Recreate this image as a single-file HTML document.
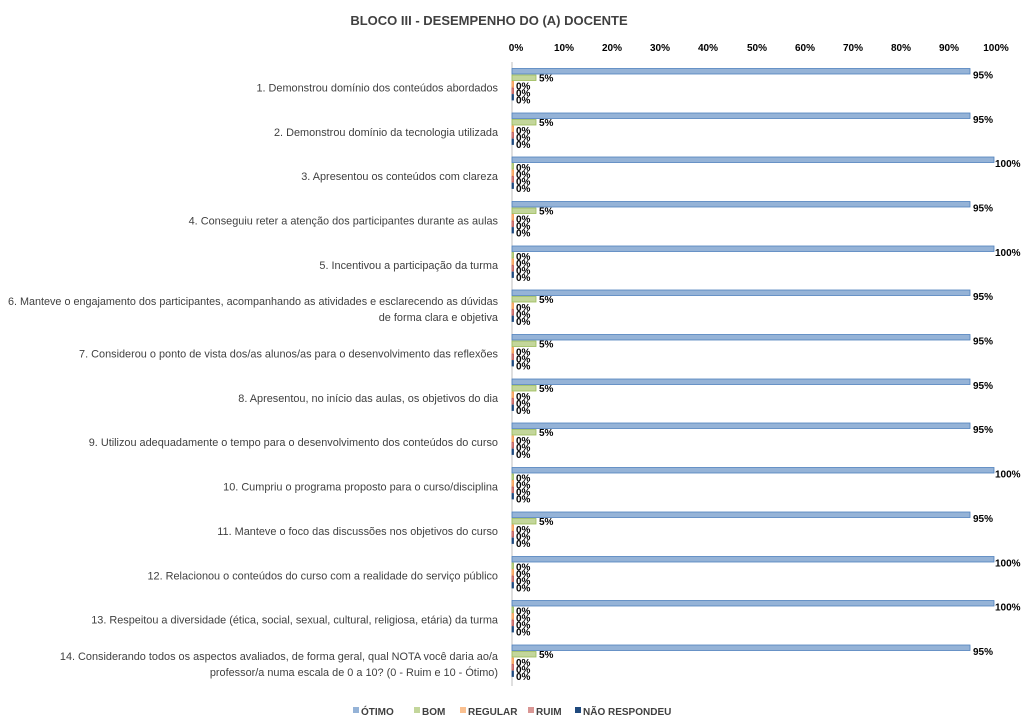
<!DOCTYPE html>
<html><head><meta charset="utf-8"><style>body{margin:0;background:#fff}svg{display:block}</style></head><body>
<svg width="1024" height="727" xmlns="http://www.w3.org/2000/svg" font-family="Liberation Sans, sans-serif">
<defs>
<style>
.a{fill:#95B3D7;stroke:#4F81BD;stroke-width:0.8}
.b{fill:#C3D69B;stroke:#9BBB59;stroke-width:0.8}
.c{fill:#FAC090;stroke:#F79646;stroke-width:0.8}
.d{fill:#D99694;stroke:#C0504D;stroke-width:0.8}
.e{fill:#1F497D;stroke:#1F497D;stroke-width:0.8}
.v{font-size:10px;font-weight:bold;fill:#000}
.l{font-size:10.9px;fill:#404040}
</style>
</defs>
<text x="489" y="25" text-anchor="middle" font-size="13" font-weight="bold" fill="#404040">BLOCO III - DESEMPENHO DO (A) DOCENTE</text>
<g font-size="10" font-weight="bold" fill="#000" text-anchor="middle">
<text x="516" y="51">0%</text><text x="564" y="51">10%</text><text x="612" y="51">20%</text><text x="660" y="51">30%</text><text x="708" y="51">40%</text><text x="757" y="51">50%</text><text x="805" y="51">60%</text><text x="853" y="51">70%</text><text x="901" y="51">80%</text><text x="949" y="51">90%</text><text x="996" y="51">100%</text>
</g>
<line x1="512" y1="62" x2="512" y2="686" stroke="#bfbfbf" stroke-width="1"/>

<g transform="translate(0,68.5)">
<rect class="a" x="512" y="0" width="458" height="5.5"/><rect class="b" x="512" y="6.5" width="24" height="5.5"/><rect class="c" x="512" y="13" width="1.5" height="5.5"/><rect class="d" x="512" y="19.5" width="1.5" height="5.5"/><rect class="e" x="512" y="26" width="1.5" height="5.5"/>
<text class="v" x="973" y="10">95%</text><text class="v" x="539" y="13">5%</text><text class="v" x="516" y="21">0%</text><text class="v" x="516" y="28">0%</text><text class="v" x="516" y="35">0%</text>
<text class="l" x="498" y="23" text-anchor="end">1. Demonstrou domínio dos conteúdos abordados</text>
</g>
<g transform="translate(0,113)">
<rect class="a" x="512" y="0" width="458" height="5.5"/><rect class="b" x="512" y="6.5" width="24" height="5.5"/><rect class="c" x="512" y="13" width="1.5" height="5.5"/><rect class="d" x="512" y="19.5" width="1.5" height="5.5"/><rect class="e" x="512" y="26" width="1.5" height="5.5"/>
<text class="v" x="973" y="10">95%</text><text class="v" x="539" y="13">5%</text><text class="v" x="516" y="21">0%</text><text class="v" x="516" y="28">0%</text><text class="v" x="516" y="35">0%</text>
<text class="l" x="498" y="23" text-anchor="end">2. Demonstrou domínio da tecnologia utilizada</text>
</g>
<g transform="translate(0,157)">
<rect class="a" x="512" y="0" width="482" height="5.5"/><rect class="b" x="512" y="6.5" width="1.5" height="5.5"/><rect class="c" x="512" y="13" width="1.5" height="5.5"/><rect class="d" x="512" y="19.5" width="1.5" height="5.5"/><rect class="e" x="512" y="26" width="1.5" height="5.5"/>
<text class="v" x="995" y="10">100%</text><text class="v" x="516" y="14">0%</text><text class="v" x="516" y="21">0%</text><text class="v" x="516" y="28">0%</text><text class="v" x="516" y="35">0%</text>
<text class="l" x="498" y="23" text-anchor="end">3. Apresentou os conteúdos com clareza</text>
</g>
<g transform="translate(0,201.5)">
<rect class="a" x="512" y="0" width="458" height="5.5"/><rect class="b" x="512" y="6.5" width="24" height="5.5"/><rect class="c" x="512" y="13" width="1.5" height="5.5"/><rect class="d" x="512" y="19.5" width="1.5" height="5.5"/><rect class="e" x="512" y="26" width="1.5" height="5.5"/>
<text class="v" x="973" y="10">95%</text><text class="v" x="539" y="13">5%</text><text class="v" x="516" y="21">0%</text><text class="v" x="516" y="28">0%</text><text class="v" x="516" y="35">0%</text>
<text class="l" x="498" y="23" text-anchor="end">4. Conseguiu reter a atenção dos participantes durante as aulas</text>
</g>
<g transform="translate(0,246)">
<rect class="a" x="512" y="0" width="482" height="5.5"/><rect class="b" x="512" y="6.5" width="1.5" height="5.5"/><rect class="c" x="512" y="13" width="1.5" height="5.5"/><rect class="d" x="512" y="19.5" width="1.5" height="5.5"/><rect class="e" x="512" y="26" width="1.5" height="5.5"/>
<text class="v" x="995" y="10">100%</text><text class="v" x="516" y="14">0%</text><text class="v" x="516" y="21">0%</text><text class="v" x="516" y="28">0%</text><text class="v" x="516" y="35">0%</text>
<text class="l" x="498" y="23" text-anchor="end">5. Incentivou a participação da turma</text>
</g>
<g transform="translate(0,290)">
<rect class="a" x="512" y="0" width="458" height="5.5"/><rect class="b" x="512" y="6.5" width="24" height="5.5"/><rect class="c" x="512" y="13" width="1.5" height="5.5"/><rect class="d" x="512" y="19.5" width="1.5" height="5.5"/><rect class="e" x="512" y="26" width="1.5" height="5.5"/>
<text class="v" x="973" y="10">95%</text><text class="v" x="539" y="13">5%</text><text class="v" x="516" y="21">0%</text><text class="v" x="516" y="28">0%</text><text class="v" x="516" y="35">0%</text>
<text class="l" x="498" y="15" text-anchor="end" textLength="490" lengthAdjust="spacingAndGlyphs">6. Manteve o engajamento dos participantes, acompanhando as atividades e esclarecendo as dúvidas</text>
<text class="l" x="498" y="31" text-anchor="end">de forma clara e objetiva</text>
</g>
<g transform="translate(0,334.5)">
<rect class="a" x="512" y="0" width="458" height="5.5"/><rect class="b" x="512" y="6.5" width="24" height="5.5"/><rect class="c" x="512" y="13" width="1.5" height="5.5"/><rect class="d" x="512" y="19.5" width="1.5" height="5.5"/><rect class="e" x="512" y="26" width="1.5" height="5.5"/>
<text class="v" x="973" y="10">95%</text><text class="v" x="539" y="13">5%</text><text class="v" x="516" y="21">0%</text><text class="v" x="516" y="28">0%</text><text class="v" x="516" y="35">0%</text>
<text class="l" x="498" y="23" text-anchor="end">7. Considerou o ponto de vista dos/as alunos/as para o desenvolvimento das reflexões</text>
</g>
<g transform="translate(0,379)">
<rect class="a" x="512" y="0" width="458" height="5.5"/><rect class="b" x="512" y="6.5" width="24" height="5.5"/><rect class="c" x="512" y="13" width="1.5" height="5.5"/><rect class="d" x="512" y="19.5" width="1.5" height="5.5"/><rect class="e" x="512" y="26" width="1.5" height="5.5"/>
<text class="v" x="973" y="10">95%</text><text class="v" x="539" y="13">5%</text><text class="v" x="516" y="21">0%</text><text class="v" x="516" y="28">0%</text><text class="v" x="516" y="35">0%</text>
<text class="l" x="498" y="23" text-anchor="end">8. Apresentou, no início das aulas, os objetivos do dia</text>
</g>
<g transform="translate(0,423)">
<rect class="a" x="512" y="0" width="458" height="5.5"/><rect class="b" x="512" y="6.5" width="24" height="5.5"/><rect class="c" x="512" y="13" width="1.5" height="5.5"/><rect class="d" x="512" y="19.5" width="1.5" height="5.5"/><rect class="e" x="512" y="26" width="1.5" height="5.5"/>
<text class="v" x="973" y="10">95%</text><text class="v" x="539" y="13">5%</text><text class="v" x="516" y="21">0%</text><text class="v" x="516" y="28">0%</text><text class="v" x="516" y="35">0%</text>
<text class="l" x="498" y="23" text-anchor="end">9. Utilizou adequadamente o tempo para o desenvolvimento dos conteúdos do curso</text>
</g>
<g transform="translate(0,467.5)">
<rect class="a" x="512" y="0" width="482" height="5.5"/><rect class="b" x="512" y="6.5" width="1.5" height="5.5"/><rect class="c" x="512" y="13" width="1.5" height="5.5"/><rect class="d" x="512" y="19.5" width="1.5" height="5.5"/><rect class="e" x="512" y="26" width="1.5" height="5.5"/>
<text class="v" x="995" y="10">100%</text><text class="v" x="516" y="14">0%</text><text class="v" x="516" y="21">0%</text><text class="v" x="516" y="28">0%</text><text class="v" x="516" y="35">0%</text>
<text class="l" x="498" y="23" text-anchor="end">10. Cumpriu o programa proposto para o curso/disciplina</text>
</g>
<g transform="translate(0,512)">
<rect class="a" x="512" y="0" width="458" height="5.5"/><rect class="b" x="512" y="6.5" width="24" height="5.5"/><rect class="c" x="512" y="13" width="1.5" height="5.5"/><rect class="d" x="512" y="19.5" width="1.5" height="5.5"/><rect class="e" x="512" y="26" width="1.5" height="5.5"/>
<text class="v" x="973" y="10">95%</text><text class="v" x="539" y="13">5%</text><text class="v" x="516" y="21">0%</text><text class="v" x="516" y="28">0%</text><text class="v" x="516" y="35">0%</text>
<text class="l" x="498" y="23" text-anchor="end">11. Manteve o foco das discussões nos objetivos do curso</text>
</g>
<g transform="translate(0,556.5)">
<rect class="a" x="512" y="0" width="482" height="5.5"/><rect class="b" x="512" y="6.5" width="1.5" height="5.5"/><rect class="c" x="512" y="13" width="1.5" height="5.5"/><rect class="d" x="512" y="19.5" width="1.5" height="5.5"/><rect class="e" x="512" y="26" width="1.5" height="5.5"/>
<text class="v" x="995" y="10">100%</text><text class="v" x="516" y="14">0%</text><text class="v" x="516" y="21">0%</text><text class="v" x="516" y="28">0%</text><text class="v" x="516" y="35">0%</text>
<text class="l" x="498" y="23" text-anchor="end">12. Relacionou o conteúdos do curso com a realidade do serviço público</text>
</g>
<g transform="translate(0,600.5)">
<rect class="a" x="512" y="0" width="482" height="5.5"/><rect class="b" x="512" y="6.5" width="1.5" height="5.5"/><rect class="c" x="512" y="13" width="1.5" height="5.5"/><rect class="d" x="512" y="19.5" width="1.5" height="5.5"/><rect class="e" x="512" y="26" width="1.5" height="5.5"/>
<text class="v" x="995" y="10">100%</text><text class="v" x="516" y="14">0%</text><text class="v" x="516" y="21">0%</text><text class="v" x="516" y="28">0%</text><text class="v" x="516" y="35">0%</text>
<text class="l" x="498" y="23" text-anchor="end">13. Respeitou a diversidade (ética, social, sexual, cultural, religiosa, etária) da turma</text>
</g>
<g transform="translate(0,645)">
<rect class="a" x="512" y="0" width="458" height="5.5"/><rect class="b" x="512" y="6.5" width="24" height="5.5"/><rect class="c" x="512" y="13" width="1.5" height="5.5"/><rect class="d" x="512" y="19.5" width="1.5" height="5.5"/><rect class="e" x="512" y="26" width="1.5" height="5.5"/>
<text class="v" x="973" y="10">95%</text><text class="v" x="539" y="13">5%</text><text class="v" x="516" y="21">0%</text><text class="v" x="516" y="28">0%</text><text class="v" x="516" y="35">0%</text>
<text class="l" x="498" y="15" text-anchor="end">14. Considerando todos os aspectos avaliados, de forma geral, qual NOTA você daria ao/a</text>
<text class="l" x="498" y="31" text-anchor="end">professor/a numa escala de 0 a 10? (0 - Ruim e 10 - Ótimo)</text>
</g>

<g font-size="10" font-weight="bold" fill="#404040">
<rect x="353" y="707" width="6" height="6" fill="#95B3D7"/><text x="361" y="715">ÓTIMO</text>
<rect x="414" y="707" width="6" height="6" fill="#C3D69B"/><text x="422" y="715">BOM</text>
<rect x="460" y="707" width="6" height="6" fill="#FAC090"/><text x="468" y="715">REGULAR</text>
<rect x="528" y="707" width="6" height="6" fill="#D99694"/><text x="536" y="715">RUIM</text>
<rect x="575" y="707" width="6" height="6" fill="#1F497D"/><text x="583" y="715">NÃO RESPONDEU</text>
</g>
</svg>
</body></html>
